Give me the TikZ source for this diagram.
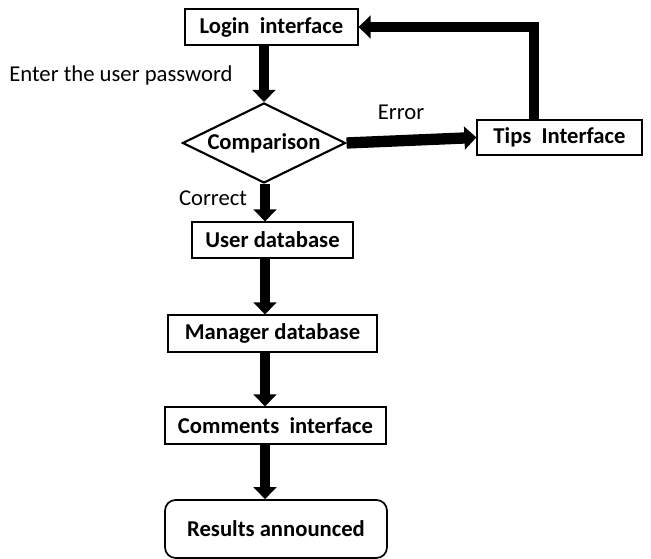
\documentclass[tikz,border=0pt]{standalone}
\usepackage{fontspec}
\setmainfont{Carlito}
\usetikzlibrary{shapes.geometric,arrows.meta,calc}
\begin{document}
\begin{tikzpicture}[x=0.75pt,y=-0.75pt,
  box/.style={draw,line width=0.9pt,inner sep=0pt,font=\fontsize{17}{20}\selectfont\bfseries},
  lbl/.style={inner sep=0pt,font=\fontsize{17}{20}\selectfont},
  flow/.style={line width=7.5pt,-{Triangle[width=17pt,length=9pt]}},
  flowline/.style={line width=7pt}]
\useasboundingbox (0,0) rectangle (651,559);
\node[box,minimum width=173*0.75pt,minimum height=36*0.75pt] (login) at (271.5,27) {Login\ \ interface};
\node[box,diamond,line width=1.6pt,aspect=2.04,minimum width=163*0.75pt,minimum height=80*0.75pt] (cmp) at (264,143) {Comparison};
\node[box,minimum width=165*0.75pt,minimum height=35*0.75pt] (tips) at (559.5,137.5) {Tips\ \ Interface};
\node[box,minimum width=161*0.75pt,minimum height=36*0.75pt] (user) at (272.5,240) {User database};
\node[box,minimum width=209*0.75pt,minimum height=37*0.75pt] (mgr) at (272.5,333.5) {Manager database};
\node[box,minimum width=221*0.75pt,minimum height=37*0.75pt] (com) at (275.5,425.5) {Comments\ \ interface};
\node[box,line width=1.3pt,rounded corners=8pt,minimum width=222*0.75pt,minimum height=58*0.75pt] (res) at (276,529) {Results announced};
\coordinate (spine) at (265,0);
\coordinate (back) at (534,0);
\node[lbl] (pw) at (121,75) {Enter the user password};
\node[lbl] (err) at (401,112) {Error};
\node[lbl] (cor) at (213,198) {Correct};
\draw[flow] (login.south -| cmp) -- (cmp.north);
\draw[flow,line width=8.5pt] (cmp.east) -- (tips.west);
\draw[flow] (cmp.south -| spine) -- (user.north -| spine);
\draw[flow] (user.south -| spine) -- (mgr.north -| spine);
\draw[flow] (mgr.south -| spine) -- (com.north -| spine);
\draw[flow] (com.south -| spine) -- (res.north -| spine);
\draw[flow,line width=7pt] (tips.north -| back) |- (login.east);
\end{tikzpicture}
\end{document}
